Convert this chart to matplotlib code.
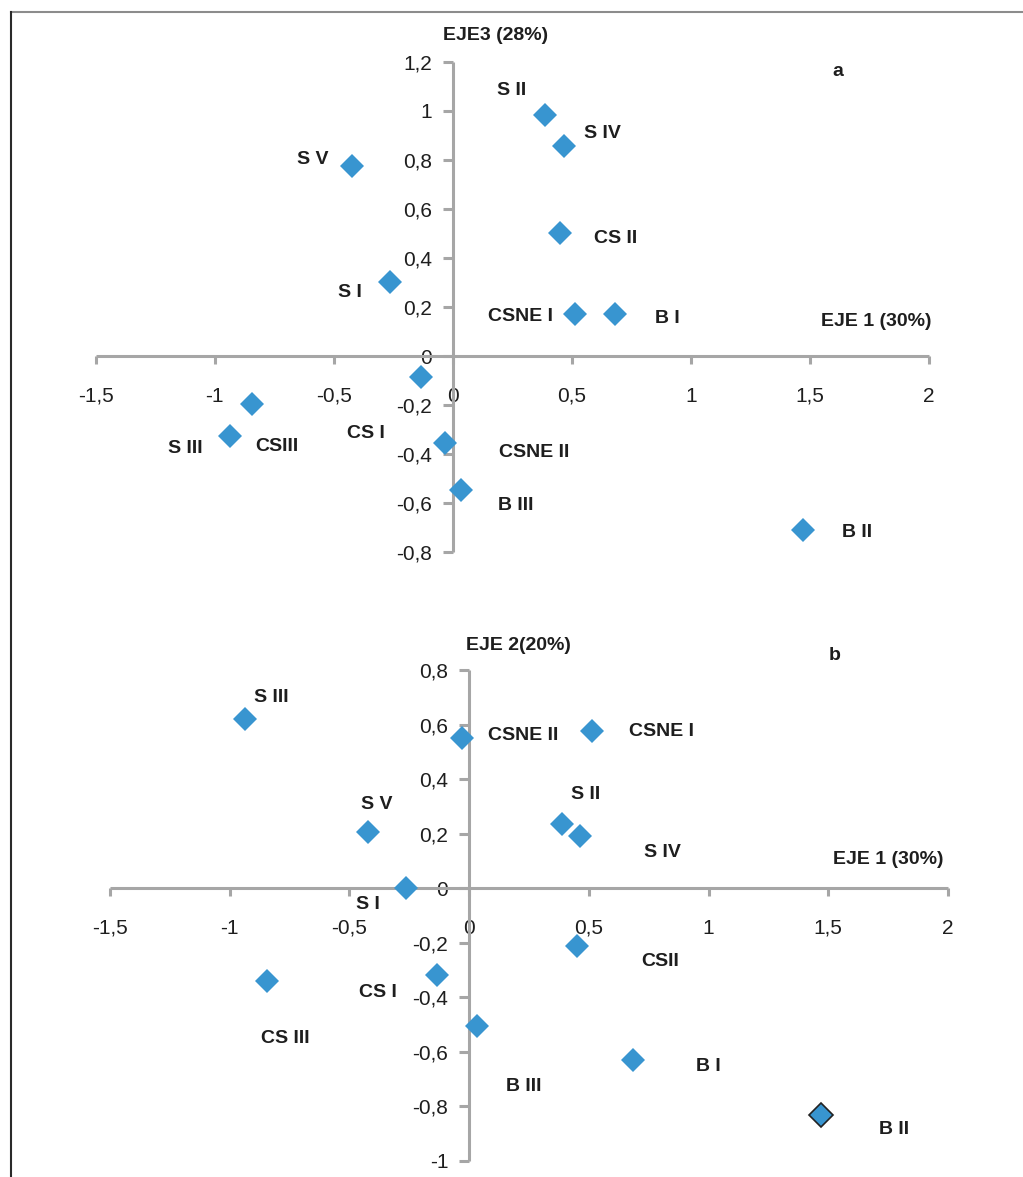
import matplotlib
matplotlib.use("Agg")
import matplotlib.pyplot as plt
from matplotlib.lines import Line2D
from matplotlib.ticker import FuncFormatter

plt.rcParams['font.family'] = ['Liberation Sans', 'DejaVu Sans']

# ---- data ----
names = ["S I", "S II", "S III", "S IV", "S V", "CS I", "CS II", "CS III",
         "CSNE I", "CSNE II", "B I", "B II", "B III"]
eje1 = [-0.264, 0.386, -0.938, 0.465, -0.423, -0.134, 0.450, -0.845,
        0.513, -0.031, 0.683, 1.471, 0.034]
eje3 = [0.302, 0.984, -0.327, 0.857, 0.776, -0.086, 0.502, -0.196,
        0.171, -0.355, 0.171, -0.710, -0.547]
eje2 = [0.000, 0.235, 0.620, 0.191, 0.206, -0.319, -0.213, -0.341,
        0.576, 0.550, -0.631, -0.833, -0.506]

labels_a = ["S I", "S II", "S III", "S IV", "S V", "CS I", "CS II", "CSIII",
            "CSNE I", "CSNE II", "B I", "B II", "B III"]
labels_b = ["S I", "S II", "S III", "S IV", "S V", "CS I", "CSII", "CS III",
            "CSNE I", "CSNE II", "B I", "B II", "B III"]

xticks = [-1.5, -1, -0.5, 0, 0.5, 1, 1.5, 2]
yticks_a = [-0.8, -0.6, -0.4, -0.2, 0, 0.2, 0.4, 0.6, 0.8, 1, 1.2]
yticks_b = [-1, -0.8, -0.6, -0.4, -0.2, 0, 0.2, 0.4, 0.6, 0.8]

# label offsets (pixels) from each point
off_a = [(-40, -10), (-33, 24), (-44, -12), (39, 13), (-39, 6), (-55, -56),
         (56, -5), (25, -42), (-54, -2), (89, -10), (52, -4), (54, -3), (55, -15)]
off_b = [(-38, -16), (24, 30), (27, 22), (82, -16), (9, 28), (-59, -17),
         (83, -15), (18, -57), (70, 0), (61, 3), (76, -6), (73, -14), (46, -60)]

W, H = 1023, 1177
fig = plt.figure(figsize=(W / 100, H / 100), dpi=100)

MARK = '#3895D0'
SPINE = '#A6A6A6'
TXT = '#1E1E1E'


def fmt(v, pos):
    s = ('%g' % v).replace('.', ',')
    return s


def make_ax(rect_px, ylim, yticks, yvals, labels, offs, edge_last=False):
    l, r, t, b = rect_px
    ax = fig.add_axes([l / W, 1 - b / H, (r - l) / W, (b - t) / H])
    ax.set_xlim(-1.5, 2)
    ax.set_ylim(*ylim)
    for s in ['top', 'right']:
        ax.spines[s].set_visible(False)
    for s in ['left', 'bottom']:
        ax.spines[s].set_position(('data', 0))
        ax.spines[s].set_color(SPINE)
        ax.spines[s].set_linewidth(2.2)
        ax.spines[s].set_capstyle('butt')
    ax.set_xticks(xticks)
    ax.set_yticks(yticks)
    ax.xaxis.set_major_formatter(FuncFormatter(fmt))
    ax.yaxis.set_major_formatter(FuncFormatter(fmt))
    ax.tick_params(axis='x', direction='out', length=6, width=2.2, color=SPINE,
                   labelsize=15, labelcolor=TXT, pad=16)
    ax.tick_params(axis='y', direction='out', length=7, width=2.2, color=SPINE,
                   labelsize=15, labelcolor=TXT, pad=8)
    ax.patch.set_alpha(0)
    ecs = [MARK] * len(eje1)
    if edge_last:
        ecs = [MARK if n != "B II" else '#222222' for n in names]
    for xv, yv, ec in zip(eje1, yvals, ecs):
        ax.plot([xv], [yv], marker='D', ms=12, color=MARK, mec=ec,
                mew=1.2 if ec != MARK else 0, linestyle='none', zorder=5,
                clip_on=False)
    for xv, yv, lab, (dx, dy) in zip(eje1, yvals, labels, offs):
        ax.annotate(lab, (xv, yv), xytext=(dx, dy), textcoords='offset pixels',
                    ha='center', va='center', fontsize=14, fontweight='bold',
                    color=TXT)
    return ax


make_ax((95.7, 929, 62, 552), (-0.8, 1.2), yticks_a, eje3, labels_a, off_a)
make_ax((110, 948, 670, 1161), (-1, 0.8), yticks_b, eje2, labels_b, off_b,
        edge_last=True)


def ftext(x, y, s, **kw):
    fig.text(x / W, 1 - y / H, s, ha='center', va='center', fontsize=14,
             fontweight='bold', color=TXT, **kw)


ftext(496, 35, "EJE3 (28%)")
ftext(876, 321, "EJE 1 (30%)")
ftext(838, 72, "a")
ftext(518, 645, "EJE 2(20%)")
ftext(888, 859, "EJE 1 (30%)")
ftext(835, 655, "b")

# outer frame (top and left)
fig.add_artist(Line2D([11 / W, 1], [1 - 12 / H, 1 - 12 / H], color='#8C8C8C',
                      lw=1.5, transform=fig.transFigure))
fig.add_artist(Line2D([11 / W, 11 / W], [1 - 12 / H, 0], color='#2A2A2A',
                      lw=1.5, transform=fig.transFigure))

fig.savefig('out.png', dpi=100)
